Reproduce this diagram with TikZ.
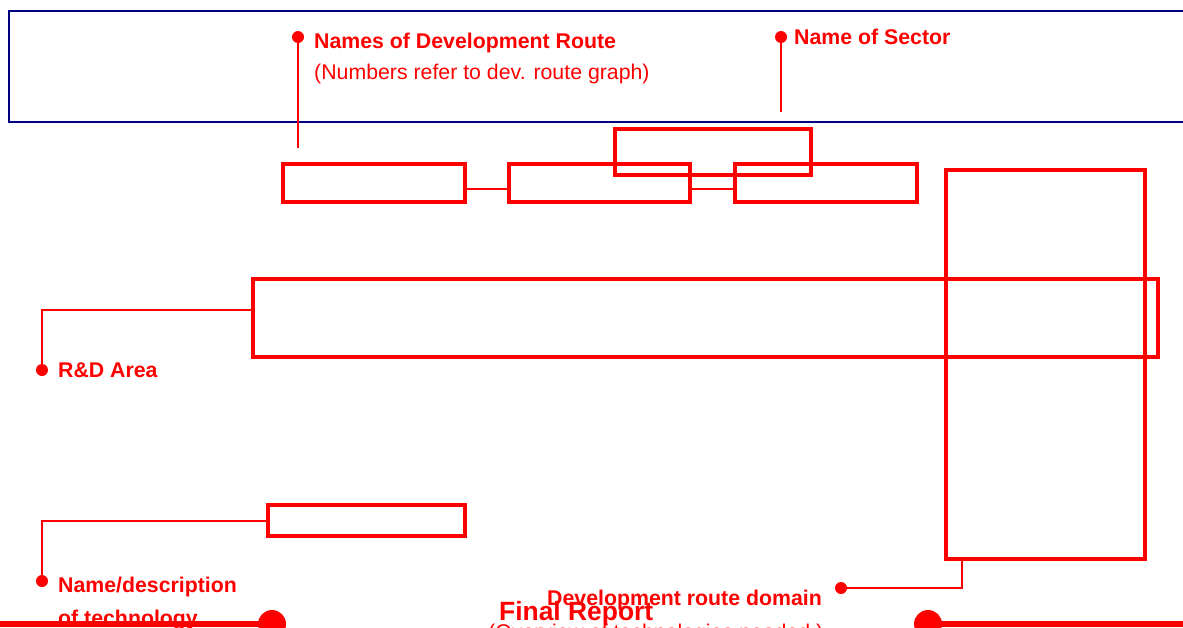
\documentclass[tikz,border=0pt]{standalone}
\usepackage{fontspec}
\setmainfont{Liberation Sans}
\definecolor{rd}{RGB}{255,0,0}
\definecolor{nv}{RGB}{0,0,128}
\tikzset{
  rbox/.style={draw=rd, line width=4pt, inner sep=0pt, outer sep=0pt},
  conn/.style={draw=rd, line width=2pt},
  adot/.style={circle, fill=rd, inner sep=0pt, minimum size=12pt},
  bdot/.style={circle, fill=rd, inner sep=0pt, minimum size=28pt},
  lbl/.style={text=rd, inner sep=0pt, font=\fontsize{21.3pt}{25pt}\selectfont\bfseries},
  sub/.style={text=rd, inner sep=0pt, font=\fontsize{21.3pt}{25pt}\selectfont},
  big/.style={text=rd, inner sep=0pt, font=\fontsize{26.4pt}{30pt}\selectfont\bfseries}
}
\begin{document}
\begin{tikzpicture}[x=1pt,y=-1pt]
\useasboundingbox (0,0) rectangle (1183,627);
\clip (0,0) rectangle (1183,627);
% header
\node[draw=nv, line width=2.5pt, inner sep=0pt, minimum width=1186pt, minimum height=111pt] (hdr) at (602,66.5) {};
% boxes
\node[rbox, minimum width=182pt, minimum height=38pt] (b1) at (374,183) {};
\node[rbox, minimum width=181pt, minimum height=38pt] (b2) at (599.5,183) {};
\node[rbox, minimum width=182pt, minimum height=38pt] (b3) at (826,183) {};
\node[rbox, minimum width=196pt, minimum height=46pt] (sect) at (713,152) {};
\node[rbox, minimum width=905pt, minimum height=78pt] (wide) at (705.5,318) {};
\node[rbox, minimum width=199pt, minimum height=389pt] (tall) at (1045.5,364.5) {};
\node[rbox, minimum width=197pt, minimum height=31pt] (tech) at (366.5,520.5) {};
% connectors between route boxes
\draw[conn] ([yshift=-6pt]b1.east) -- ([yshift=-6pt]b2.west);
\draw[conn] ([yshift=-6pt]b2.east) -- ([yshift=-6pt]b3.west);
% annotation dots
\node[adot] (dnames) at (298,37) {};
\node[adot] (dsect) at (781,37) {};
\node[adot] (drd) at (42,370) {};
\node[adot] (dtech) at (42,581) {};
\node[adot] (ddom) at (841,588) {};
\coordinate (enames) at (298,148);
\coordinate (esect) at (781,112);
\draw[conn] (dnames.center) -- (enames);
\draw[conn] (dsect.center) -- (esect);
\draw[conn] ([yshift=8pt]wide.west) -| (drd.center);
\draw[conn] (tech.west) -| (dtech.center);
\draw[conn] ([xshift=-83.5pt]tall.south) |- (ddom.center);
% labels
\node[lbl, anchor=base west] (tnames) at (314,48) {Names of Development Route};
\node[sub, anchor=base west] (tnum) at (314,79) {(Numbers refer to dev. route graph)};
\node[lbl, anchor=base west] (tsect) at (794,44) {Name of Sector};
\node[lbl, anchor=base west] (trd) at (58,377) {R\&D Area};
\node[lbl, anchor=base west] (ttech1) at (58,592) {Name/description};
\node[lbl, anchor=base west] (ttech2) at (58,625) {of technology};
\node[lbl, anchor=base east] (tdom) at (822,605) {Development route domain};
% bottom bar
\coordinate (bl0) at (-20,624);
\coordinate (br0) at (1203,624);
\node[bdot] (bl) at (272,624) {};
\node[bdot] (br) at (928,624) {};
\draw[draw=rd, line width=6pt] (bl0) -- (bl.center);
\draw[draw=rd, line width=6pt] (br.center) -- (br0);
\node[big, anchor=base west] (tfinal) at (499,620) {Final Report};
\node[sub, anchor=base west] (tover) at (488,639) {(Overview of technologies needed.)};
\end{tikzpicture}
\end{document}
